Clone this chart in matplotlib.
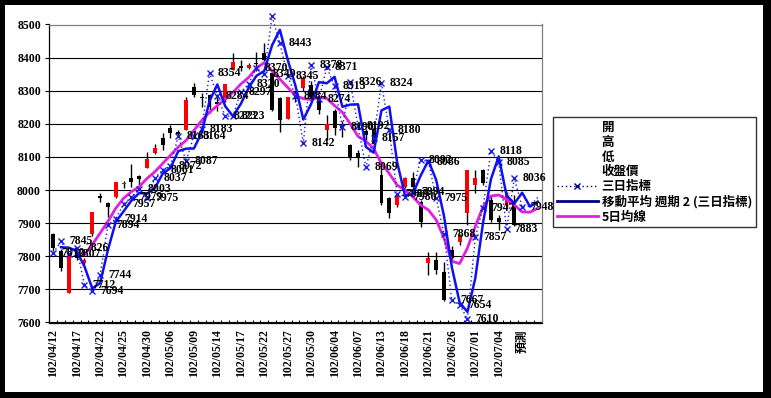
import matplotlib
matplotlib.use("Agg")
import matplotlib.pyplot as plt
from matplotlib.lines import Line2D
from matplotlib.patches import Rectangle
import numpy as np
import pandas as pd

plt.rcParams['font.family'] = ['Noto Sans CJK TC', 'DejaVu Sans']

# ---------------- data ----------------
dates = ["102/04/12", "102/04/15", "102/04/16", "102/04/17", "102/04/18", "102/04/19",
         "102/04/22", "102/04/23", "102/04/24", "102/04/25", "102/04/26", "102/04/29",
         "102/04/30", "102/05/02", "102/05/03", "102/05/06", "102/05/07", "102/05/08",
         "102/05/09", "102/05/10", "102/05/13", "102/05/14", "102/05/15", "102/05/16",
         "102/05/17", "102/05/20", "102/05/21", "102/05/22", "102/05/23", "102/05/24",
         "102/05/27", "102/05/28", "102/05/29", "102/05/30", "102/05/31", "102/06/03",
         "102/06/04", "102/06/05", "102/06/06", "102/06/07", "102/06/10", "102/06/11",
         "102/06/13", "102/06/14", "102/06/17", "102/06/18", "102/06/19", "102/06/20",
         "102/06/21", "102/06/24", "102/06/25", "102/06/26", "102/06/27", "102/06/28",
         "102/07/01", "102/07/02", "102/07/03", "102/07/04", "102/07/05", "102/07/08",
         "預測", "", ""]

opens = [7866, 7816, 7690, 7810, 7780, 7866, 7982, 7960, 7980, 8018,
         8035, 8042, 8066, 8111, 8156, 8186, 8175, 8181, 8312, 8282,
         8287, 8265, 8272, 8363, 8376, 8368, 8385, 8413, 8353, 8277,
         8216, 8290, 8307, 8317, 8277, 8181, 8240, 8201, 8136, 8111,
         8178, 8185, 8045, 7975, 7955, 8010, 8035, 7965, 7779, 7789,
         7753, 7818, 7844, 7930, 8015, 8060, 7970, 7917, 7955, 7955]
highs = [7870, 7822, 7800, 7815, 7795, 7935, 7990, 7965, 8025, 8028,
         8080, 8045, 8116, 8140, 8171, 8196, 8180, 8282, 8322, 8292,
         8290, 8290, 8320, 8413, 8393, 8385, 8418, 8443, 8360, 8280,
         8282, 8300, 8345, 8330, 8285, 8226, 8245, 8210, 8140, 8120,
         8185, 8192, 8076, 7980, 7990, 8040, 8055, 7970, 7814, 7814,
         7783, 7830, 7866, 8062, 8060, 8065, 7985, 7925, 7995, 7985]
lows = [7815, 7756, 7690, 7790, 7775, 7860, 7965, 7920, 7975, 8005,
        8010, 8000, 8066, 8108, 8121, 8156, 8160, 8181, 8282, 8252,
        8232, 8240, 8265, 8363, 8360, 8365, 8360, 8390, 8240, 8176,
        8216, 8265, 8300, 8270, 8230, 8151, 8166, 8161, 8091, 8070,
        8150, 8125, 7955, 7915, 7950, 8005, 8000, 7889, 7743, 7745,
        7665, 7790, 7835, 7894, 7990, 8015, 7905, 7879, 7950, 7890]
closes = [7824, 7765, 7800, 7795, 7790, 7933, 7975, 7950, 8025, 8022,
          8025, 8032, 8093, 8126, 8136, 8171, 8168, 8272, 8287, 8278,
          8252, 8260, 8319, 8388, 8370, 8378, 8380, 8393, 8242, 8212,
          8280, 8275, 8337, 8282, 8242, 8201, 8188, 8188, 8101, 8101,
          8165, 8140, 7960, 7930, 7985, 8035, 8010, 7904, 7794, 7758,
          7668, 7796, 7864, 8060, 8035, 8020, 7910, 7904, 7990, 7894]

# 三日指標
three_day = [7810, 7845, 7807, 7826, 7712, 7694, 7744, 7894, 7914, 7957,
             7979, 8003, 7975, 8037, 8061, 8072, 8163, 8087, 8164, 8183,
             8354, 8284, 8223, 8223, 8297, 8320, 8370, 8349, 8525, 8443,
             8345, 8284, 8142, 8378, 8274, 8371, 8313, 8190, 8326, 8192,
             8069, 8157, 8324, 8180, 7989, 7980, 7994, 8092, 8086, 7975,
             7868, 7667, 7654, 7610, 7857, 7947, 8118, 8085, 7883, 8036,
             7948, 7952, 7978]
n_labelled = 61   # data labels shown for the first 61 points

# 5日均線 (from index 4)
ma5 = [None, None, None, None,
       7805, 7835, 7870, 7905, 7945, 7975, 7995, 8010, 8035, 8055, 8080,
       8105, 8130, 8150, 8180, 8210, 8235, 8255, 8275, 8295, 8320, 8340,
       8368, 8385, 8360, 8335, 8310, 8285, 8276, 8273, 8280, 8277, 8255,
       8235, 8200, 8162, 8148, 8125, 8080, 8050, 8015, 8000, 7980, 7955,
       7940, 7910, 7855, 7785, 7778, 7825, 7890, 7950, 7982, 7985, 7972,
       7955, 7934, 7933, 7945]

legend_labels = ["開", "高", "低", "收盤價", "三日指標", "移動平均 週期 2 (三日指標)", "5日均線"]

# ---------------- figure ----------------
W, H = 771, 398
fig = plt.figure(figsize=(W / 100, H / 100), dpi=100)
fig.patch.set_facecolor('black')
fig.add_artist(Rectangle((5 / W, 6 / H), 758 / W, 387 / H, transform=fig.transFigure,
                         facecolor='white', edgecolor='none', zorder=0))

ax = fig.add_axes([49.3 / W, 75.5 / H, 492.4 / W, 298 / H])
ax.set_facecolor('white')
n = len(dates)
ax.set_xlim(-0.5, n - 0.5)
ax.set_ylim(7600, 8500)

serif = ['Liberation Serif', 'Noto Sans CJK TC']

# grid
ax.set_yticks(np.arange(7600, 8501, 100))
ax.yaxis.grid(True, color='black', lw=0.8)
ax.set_axisbelow(True)
ax.set_yticklabels([str(v) for v in range(7600, 8501, 100)], fontfamily=serif,
                   fontweight='bold', fontsize=8.5)
ax.tick_params(axis='y', length=3, width=0.8, pad=3)

xt = list(range(0, n, 3))
ax.set_xticks(xt)
ax.set_xticklabels([dates[i] for i in xt], rotation=90, fontfamily=serif,
                   fontweight='bold', fontsize=8.5)
ax.set_xticks(np.arange(-0.5, n, 1), minor=True)
ax.tick_params(axis='x', which='major', length=0, pad=5)
ax.tick_params(axis='x', which='minor', length=2.5, direction='in', width=0.8)

for s in ['left', 'bottom']:
    ax.spines[s].set_color('black')
    ax.spines[s].set_linewidth(0.9)
for s in ['top', 'right']:
    ax.spines[s].set_color('#808080')
    ax.spines[s].set_linewidth(0.9)

# candlesticks
xc = np.arange(len(opens))
o = np.array(opens); c = np.array(closes); hi = np.array(highs); lo = np.array(lows)
ax.vlines(xc, lo, hi, color='black', lw=1, zorder=2)
up = c >= o
body_bottom = np.minimum(o, c)
body_h = np.maximum(np.abs(c - o), 4)
ax.bar(xc[up], body_h[up], bottom=body_bottom[up], width=0.5, color='#FF0000',
       edgecolor='none', zorder=3)
ax.bar(xc[~up], body_h[~up], bottom=body_bottom[~up], width=0.5, color='black',
       edgecolor='none', zorder=3)

# 5-day line
ma5_s = pd.Series(ma5, dtype=float)
ax.plot(np.arange(len(ma5)), ma5_s, color='#E020E0', lw=2, zorder=4)

# 三日指標 dotted with x markers
td = pd.Series(three_day, dtype=float)
xd = np.arange(len(three_day))
ax.plot(xd, td, linestyle=(0, (1, 2)), color='#1C1CE0', lw=1, marker='x', ms=5,
        mew=1, zorder=5, clip_on=False, markevery=list(range(n_labelled)))
# moving average period 2 of 三日指標
ma2 = td.rolling(2).mean()
ax.plot(xd, ma2, color='#1010F0', lw=1.8, zorder=6, clip_on=False)

# data labels
for i, v in enumerate(three_day[:n_labelled]):
    if v > 8500:
        continue
    ax.annotate(str(v), (i, v), xytext=(6, 0), textcoords='offset points',
                va='center', ha='left', fontsize=8.5, fontweight='bold',
                fontfamily=serif, zorder=7, annotation_clip=False)

# legend
handles = [Line2D([], [], linestyle='none') for _ in range(4)]
handles.append(Line2D([], [], linestyle=(0, (1, 2)), color='#000080', lw=1,
                      marker='x', ms=5, mew=1))
handles.append(Line2D([], [], color='#000080', lw=2))
handles.append(Line2D([], [], color='#E020E0', lw=2))
leg = fig.legend(handles, legend_labels, loc='upper left',
                 bbox_to_anchor=(553 / W, 1 - 117 / H), frameon=True, fancybox=False,
                 edgecolor='black', handlelength=3.3, handletextpad=0.3,
                 labelspacing=0.15, borderpad=0.3, borderaxespad=0,
                 prop={'family': 'Noto Sans CJK TC', 'size': 9, 'weight': 'bold'})
leg.get_frame().set_linewidth(1)

fig.savefig('out.png', dpi=100, facecolor=fig.get_facecolor())
